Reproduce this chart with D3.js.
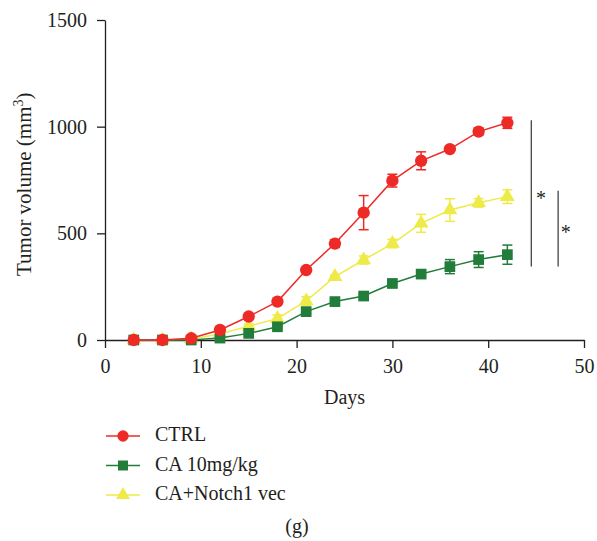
<!DOCTYPE html>
<head>
<meta charset="utf-8">
<script src="https://d3js.org/d3.v7.min.js"></script>
<style>
    body { margin: 0; background: #fff; }
    text { font-family: "Liberation Serif", "DejaVu Serif", serif; fill: #231f20; }
    .axis path, .axis line { stroke: #231f20; stroke-width: 1.3px; }
</style>
</head>
<body>
<svg></svg>
<script>
    var width = 597;
    var height = 541;

    // data
    var days = [3, 6, 9, 12, 15, 18, 21, 24, 27, 30, 33, 36, 39, 42];
    var ctrl     = [0, 0, 8, 47, 110, 180, 328, 452, 597, 747, 840, 895, 977, 1018];
    var ctrlErr  = [0, 0, 3, 5, 6, 6, 8, 18, 80, 30, 42, 8, 16, 26];
    var ca       = [0, 0, 0, 9, 31, 62, 133, 180, 206, 265, 309, 344, 377, 400];
    var caErr    = [0, 0, 0, 3, 5, 6, 8, 6, 8, 6, 10, 33, 37, 45];
    var notch    = [0, 0, 5, 28, 65, 100, 183, 297, 375, 452, 547, 609, 643, 672];
    var notchErr = [0, 0, 2, 4, 10, 18, 20, 8, 19, 20, 42, 53, 20, 32];
    var xTicks = [0, 10, 20, 30, 40, 50];
    var yTicks = [0, 500, 1000, 1500];

    var series = [
        {name: "CTRL", values: ctrl, err: ctrlErr, color: "#ee2a27", shape: d3.symbolCircle},
        {name: "CA 10mg/kg", values: ca, err: caErr, color: "#227d3b", shape: d3.symbolSquare},
        {name: "CA+Notch1 vec", values: notch, err: notchErr, color: "#eeea48", shape: d3.symbolTriangle}
    ];
    // draw order: yellow under, then green, red on top
    var drawOrder = [2, 1, 0];

    var svg = d3.select("svg")
        .attr("width", width)
        .attr("height", height);

    var x = d3.scaleLinear().domain([0, 50]).range([105, 584]);
    var y = d3.scaleLinear().domain([0, 1500]).range([340, 20]);

    // axes
    svg.append("g").attr("class", "axis")
        .attr("transform", "translate(0," + y(0) + ")")
        .call(d3.axisBottom(x).tickValues(xTicks).tickFormat(d3.format("d"))
            .tickSize(8).tickSizeOuter(0).tickPadding(11))
        .call(function(g) { g.selectAll("text").style("font-size", "20px"); });

    svg.append("g").attr("class", "axis")
        .attr("transform", "translate(" + x(0) + ",0)")
        .call(d3.axisLeft(y).tickValues(yTicks).tickFormat(d3.format("d"))
            .tickSize(8).tickSizeOuter(0).tickPadding(10))
        .call(function(g) { g.selectAll("text").style("font-size", "20px"); });

    svg.selectAll(".axis text").style("fill", "#231f20");

    // axis titles
    svg.append("text")
        .attr("x", x(25)).attr("y", 404)
        .attr("text-anchor", "middle")
        .style("font-size", "20px")
        .text("Days");

    var yTitle = svg.append("text")
        .attr("transform", "translate(31," + y(730) + ") rotate(-90)")
        .attr("text-anchor", "middle")
        .style("font-size", "21px");
    yTitle.append("tspan").text("Tumor volume (mm");
    yTitle.append("tspan").attr("dy", -8).style("font-size", "14px").text("3");
    yTitle.append("tspan").attr("dy", 8).text(")");

    var line = d3.line()
        .x(function(d) { return x(d[0]); })
        .y(function(d) { return y(d[1]); });

    drawOrder.forEach(function(i) {
        var s = series[i];
        var pts = days.map(function(d, k) { return [d, s.values[k], s.err[k]]; });
        var g = svg.append("g");

        g.append("path")
            .attr("d", line(pts))
            .attr("fill", "none")
            .attr("stroke", s.color)
            .attr("stroke-width", 1.5);

        // error bars
        var eb = g.selectAll(".eb").data(pts.filter(function(p) { return p[2] > 0; }))
            .enter().append("g")
            .attr("stroke", s.color)
            .attr("stroke-width", 1.5);
        eb.append("line")
            .attr("x1", function(p) { return x(p[0]); })
            .attr("x2", function(p) { return x(p[0]); })
            .attr("y1", function(p) { return y(p[1] - p[2]); })
            .attr("y2", function(p) { return y(p[1] + p[2]); });
        eb.append("line")
            .attr("x1", function(p) { return x(p[0]) - 5; })
            .attr("x2", function(p) { return x(p[0]) + 5; })
            .attr("y1", function(p) { return y(p[1] + p[2]); })
            .attr("y2", function(p) { return y(p[1] + p[2]); });
        eb.append("line")
            .attr("x1", function(p) { return x(p[0]) - 5; })
            .attr("x2", function(p) { return x(p[0]) + 5; })
            .attr("y1", function(p) { return y(p[1] - p[2]); })
            .attr("y2", function(p) { return y(p[1] - p[2]); });

        g.selectAll(".mk").data(pts)
            .enter().append("path")
            .attr("d", d3.symbol().type(s.shape).size(s.shape === d3.symbolTriangle ? 95 : (s.shape === d3.symbolSquare ? 115 : 120)))
            .attr("transform", function(p) { return "translate(" + x(p[0]) + "," + y(p[1]) + ")"; })
            .attr("fill", s.color);
    });

    // significance brackets
    svg.append("line")
        .attr("x1", x(44.5)).attr("x2", x(44.5))
        .attr("y1", y(1030)).attr("y2", y(345))
        .attr("stroke", "#444").attr("stroke-width", 1.3);
    svg.append("text")
        .attr("x", x(45.5)).attr("y", y(633))
        .attr("text-anchor", "middle").style("font-size", "20px").text("*");
    svg.append("line")
        .attr("x1", x(47.3)).attr("x2", x(47.3))
        .attr("y1", y(700)).attr("y2", y(345))
        .attr("stroke", "#444").attr("stroke-width", 1.3);
    svg.append("text")
        .attr("x", x(48.1)).attr("y", y(473))
        .attr("text-anchor", "middle").style("font-size", "20px").text("*");

    // legend
    var legend = svg.selectAll(".leg").data(series)
        .enter().append("g")
        .attr("transform", function(d, i) { return "translate(106," + (436 + i * 29.5) + ")"; });
    legend.append("line")
        .attr("x1", 0).attr("x2", 34)
        .attr("stroke", function(d) { return d.color; })
        .attr("stroke-width", 1.5);
    legend.append("path")
        .attr("d", function(d) { return d3.symbol().type(d.shape).size(d.shape === d3.symbolTriangle ? 85 : 100)(); })
        .attr("transform", "translate(17,0)")
        .attr("fill", function(d) { return d.color; });
    legend.append("text")
        .attr("x", 49).attr("y", 5)
        .style("font-size", "20px")
        .text(function(d) { return d.name; });

    svg.append("text")
        .attr("x", 297).attr("y", 533)
        .attr("text-anchor", "middle")
        .style("font-size", "20px")
        .text("(g)");
</script>
</body>
